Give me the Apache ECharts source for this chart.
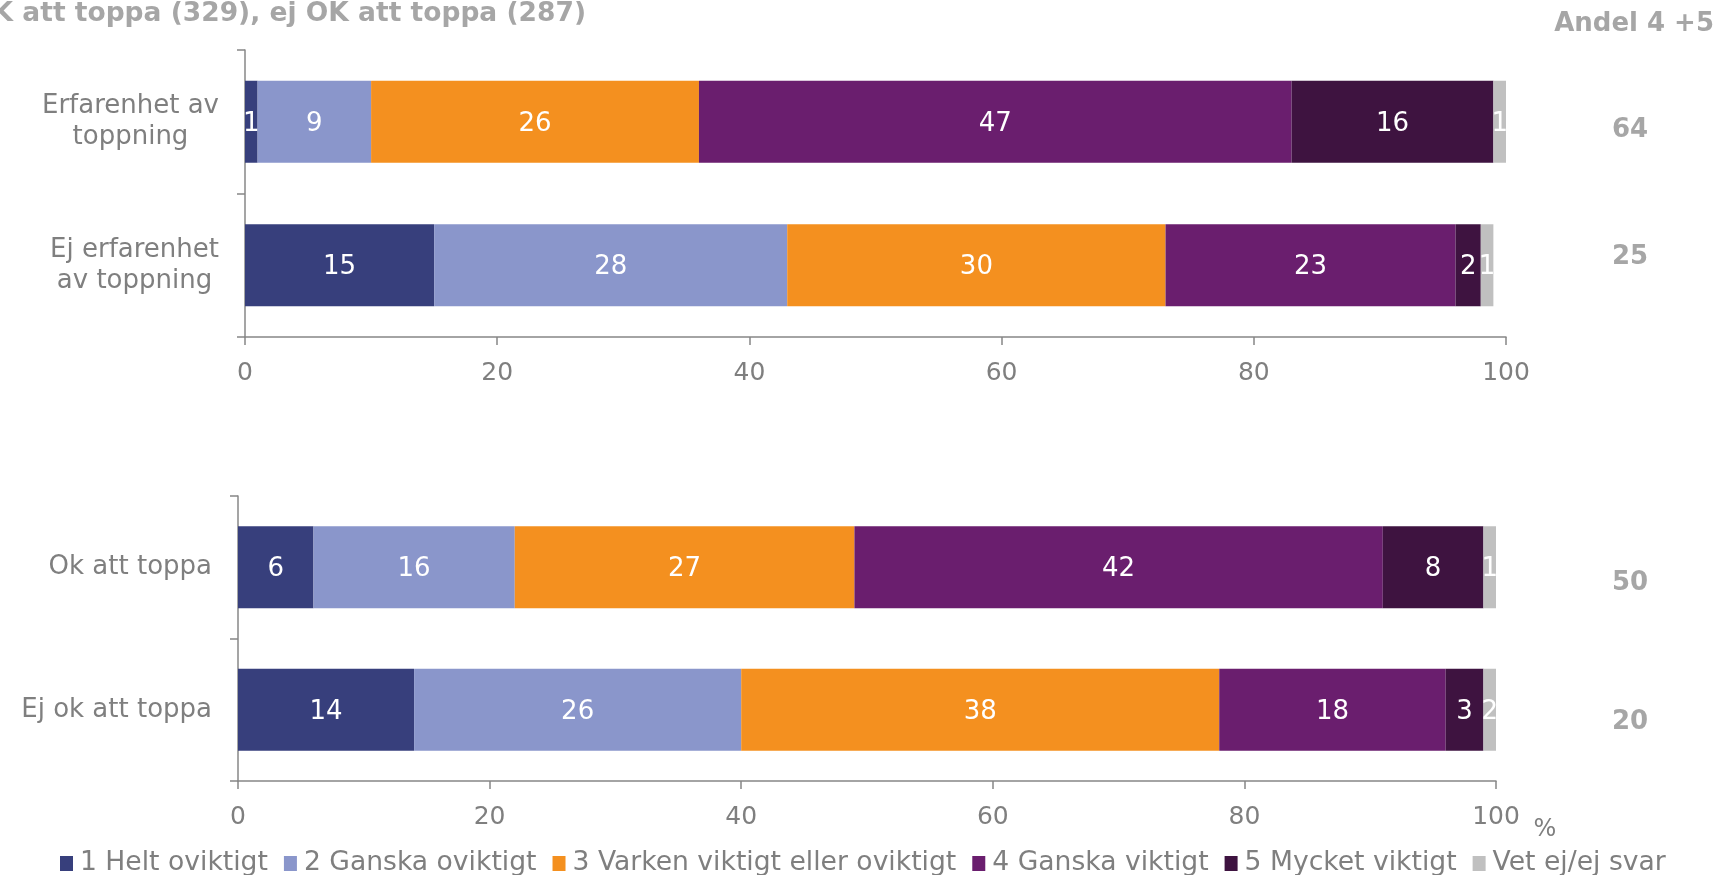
<!DOCTYPE html>
<html>
<head>
<meta charset="utf-8">
<script src="https://cdn.jsdelivr.net/npm/echarts@6/dist/echarts.min.js"></script>
<style>
  html, body { margin: 0; padding: 0; background: #fff; }
  #chart { width: 1717px; height: 875px; }
</style>
</head>
<body>
<div id="chart"></div>
<script>
// svarsalternativ (legend)
const seriesNames = ['1 Helt oviktigt', '2 Ganska oviktigt', '3 Varken viktigt eller oviktigt', '4 Ganska viktigt', '5 Mycket viktigt', 'Vet ej/ej svar']
const colors = ['#373f7c', '#8a96cb', '#f4901f', '#6a1e6e', '#3e1340', '#c0c0c0']

// övre diagram: erfarenhet av toppning
const topCategories = ['Erfarenhet av\ntoppning', 'Ej erfarenhet\nav toppning']
const topValues = [
  [1, 15],
  [9, 28],
  [26, 30],
  [47, 23],
  [16, 2],
  [1, 1]
]

// nedre diagram: ok att toppa
const bottomCategories = ['Ok att toppa', 'Ej ok att toppa']
const bottomValues = [
  [6, 14],
  [16, 26],
  [27, 38],
  [42, 18],
  [8, 3],
  [1, 2]
]

// andel 4 + 5
const andelTitle = 'Andel 4 +5'
const andelTop = [64, 25]
const andelBottom = [50, 20]

const xTicks = { min: 0, max: 100, interval: 20 }
const titleText = 'OK att toppa (329), ej OK att toppa (287)'

const grey = '#7f7f7f'
const lineGrey = '#878787'
const font = 'DejaVu Sans, Verdana, sans-serif'

const chart = echarts.init(document.getElementById('chart'))

function catLabel(s) {
  return s.split('\n').map(l => '{c|' + l + '}').join('\n')
}

function xAxisFor(gridIndex) {
  return {
    type: 'value', gridIndex, min: xTicks.min, max: xTicks.max, interval: xTicks.interval,
    axisLine: { show: true, lineStyle: { color: lineGrey, width: 1.5 } },
    axisTick: { show: true, length: 8, lineStyle: { color: lineGrey, width: 1.5 } },
    axisLabel: { color: grey, fontSize: 25, fontFamily: font, margin: 24 },
    splitLine: { show: false }
  }
}

function yAxisFor(gridIndex, data) {
  return {
    type: 'category', gridIndex, data, inverse: true,
    axisLine: { show: true, lineStyle: { color: lineGrey, width: 1.5 } },
    axisTick: { show: true, length: 8, alignWithLabel: false, lineStyle: { color: lineGrey, width: 1.5 } },
    axisLabel: {
      margin: 26, align: 'right',
      formatter: catLabel,
      rich: { c: { align: 'center', color: grey, fontSize: 26, fontFamily: font, lineHeight: 31 } }
    }
  }
}

function makeSeries(values, axisIndex) {
  return values.map((vals, i) => ({
    name: seriesNames[i],
    type: 'bar',
    stack: 'g' + axisIndex,
    xAxisIndex: axisIndex,
    yAxisIndex: axisIndex,
    barWidth: 82,
    data: vals,
    itemStyle: { color: colors[i] },
    label: {
      show: true, position: 'inside', color: '#fff',
      fontSize: 26, fontFamily: font, offset: [0, 2]
    },
    emphasis: { disabled: true }
  }))
}

function andelText(v, y) {
  return {
    type: 'text', x: 1630, y,
    style: { text: String(v), fill: '#a6a6a6', font: 'bold 26px ' + font, align: 'center', verticalAlign: 'middle' }
  }
}

chart.setOption({
  animation: false,
  textStyle: { fontFamily: font },
  grid: [
    { left: 245, width: 1261, top: 50, height: 287 },
    { left: 238, width: 1258, top: 496, height: 285 }
  ],
  xAxis: [xAxisFor(0), xAxisFor(1)],
  yAxis: [yAxisFor(0, topCategories), yAxisFor(1, bottomCategories)],
  legend: {
    data: seriesNames,
    left: 60, top: 850, padding: 0,
    itemWidth: 13, itemHeight: 15, itemGap: 16,
    icon: 'rect',
    textStyle: { color: grey, fontSize: 26.6, fontFamily: font, padding: [0, 0, 0, 2] }
  },
  graphic: [
    {
      type: 'text', x: 586, y: 14,
      style: { text: titleText, fill: '#a6a6a6', font: 'bold 26.5px ' + font, align: 'right', verticalAlign: 'middle' }
    },
    {
      type: 'text', x: 1714, y: 24,
      style: { text: andelTitle, fill: '#a6a6a6', font: 'bold 26px ' + font, align: 'right', verticalAlign: 'middle' }
    },
    andelText(andelTop[0], 130),
    andelText(andelTop[1], 257),
    andelText(andelBottom[0], 583),
    andelText(andelBottom[1], 722),
    {
      type: 'text', x: 1545, y: 830,
      style: { text: '%', fill: grey, font: '24px ' + font, align: 'center', verticalAlign: 'middle' }
    }
  ],
  series: [...makeSeries(topValues, 0), ...makeSeries(bottomValues, 1)]
})

window.addEventListener('resize', () => chart.resize())
</script>
</body>
</html>
